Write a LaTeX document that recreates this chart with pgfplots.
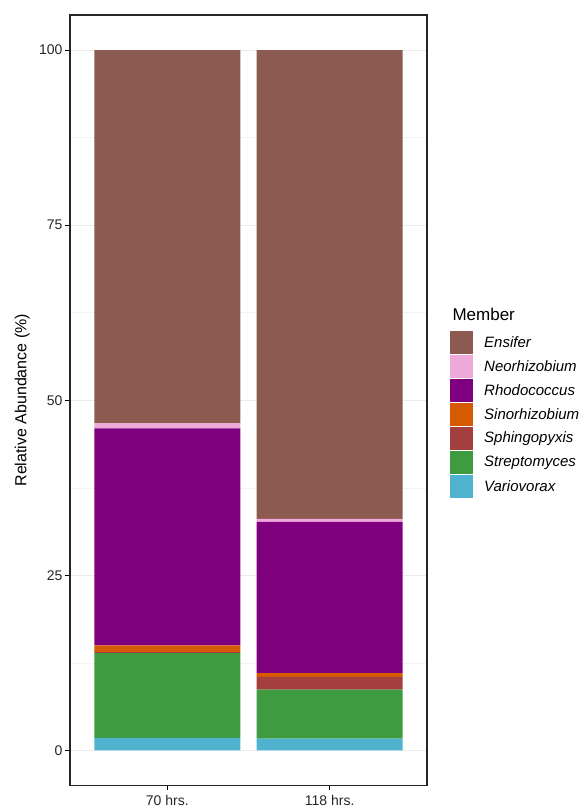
\documentclass[border=0pt]{standalone}
\usepackage{pgfplots}
\pgfplotsset{compat=1.18}
\usepackage{fontspec}
\setmainfont{Liberation Sans}
\definecolor{cEns}{HTML}{8C5A50}
\definecolor{cNeo}{HTML}{EEA9DA}
\definecolor{cRho}{HTML}{7F007F}
\definecolor{cSin}{HTML}{D65A00}
\definecolor{cSph}{HTML}{A43F3F}
\definecolor{cStr}{HTML}{3E9B3F}
\definecolor{cVar}{HTML}{4FB2CF}
\definecolor{gridc}{HTML}{EBEBEB}
\definecolor{gridm}{HTML}{F3F3F3}
\begin{document}
\begin{tikzpicture}[x=1pt,y=1pt]
\useasboundingbox (0,0) rectangle (588,808);
\begin{axis}[
  at={(70pt,22.5pt)}, anchor=south west,
  scale only axis, width=357pt, height=770.5pt,
  xmin=0.4, xmax=2.6, ymin=-5, ymax=105,
  ybar stacked, bar width=0.9,
  xtick={1,2}, xticklabels={70 hrs., 118 hrs.},
  ytick={0,25,50,75,100},
  minor ytick={12.5,37.5,62.5,87.5},
  ymajorgrids, yminorgrids,
  major grid style={gridc, line width=0.9pt},
  minor grid style={gridm, line width=0.5pt},
  tick align=outside, major tick length=5pt, minor tick length=0pt,
  tick style={black, line width=0.6pt},
  xtick pos=bottom, ytick pos=left,
  axis line style={black!85, line width=1.1pt},
  ticklabel style={font=\fontsize{14}{16}\selectfont, text=black!85},
  yticklabel style={xshift=1pt},
  xticklabel style={yshift=-1pt},
  /pgf/number format/assume math mode=true,
  ylabel={Relative Abundance (\%)},
  every axis y label/.style={at={(axis description cs:-0.134,0.5)}, rotate=90, anchor=center, font=\fontsize{16}{18}\selectfont},
]
\addplot[fill=cVar, draw=none] coordinates {(1,1.8) (2,1.7)};
\addplot[fill=cStr, draw=none] coordinates {(1,12.1) (2,7.0)};
\addplot[fill=cSph, draw=none] coordinates {(1,0.15) (2,1.8)};
\addplot[fill=cSin, draw=none] coordinates {(1,0.95) (2,0.55)};
\addplot[fill=cRho, draw=none] coordinates {(1,31.0) (2,21.6)};
\addplot[fill=cNeo, draw=none] coordinates {(1,0.7) (2,0.4)};
\addplot[fill=cEns, draw=none] coordinates {(1,53.3) (2,66.95)};
\end{axis}
% legend
\node[anchor=west, font=\fontsize{17}{19}\selectfont] at (449,808-314) {Member};
\foreach \c/\n [count=\i from 0] in {cEns/Ensifer,cNeo/Neorhizobium,cRho/Rhodococcus,cSin/Sinorhizobium,cSph/Sphingopyxis,cStr/Streptomyces,cVar/Variovorax}{
  \fill[\c] (450,808-331-24*\i) rectangle ++(23,-23);
  \node[anchor=west, inner sep=0pt, font=\fontsize{15}{17}\selectfont\itshape] at (484,808-342.5-24*\i) {\n};
}
\end{tikzpicture}
\end{document}
